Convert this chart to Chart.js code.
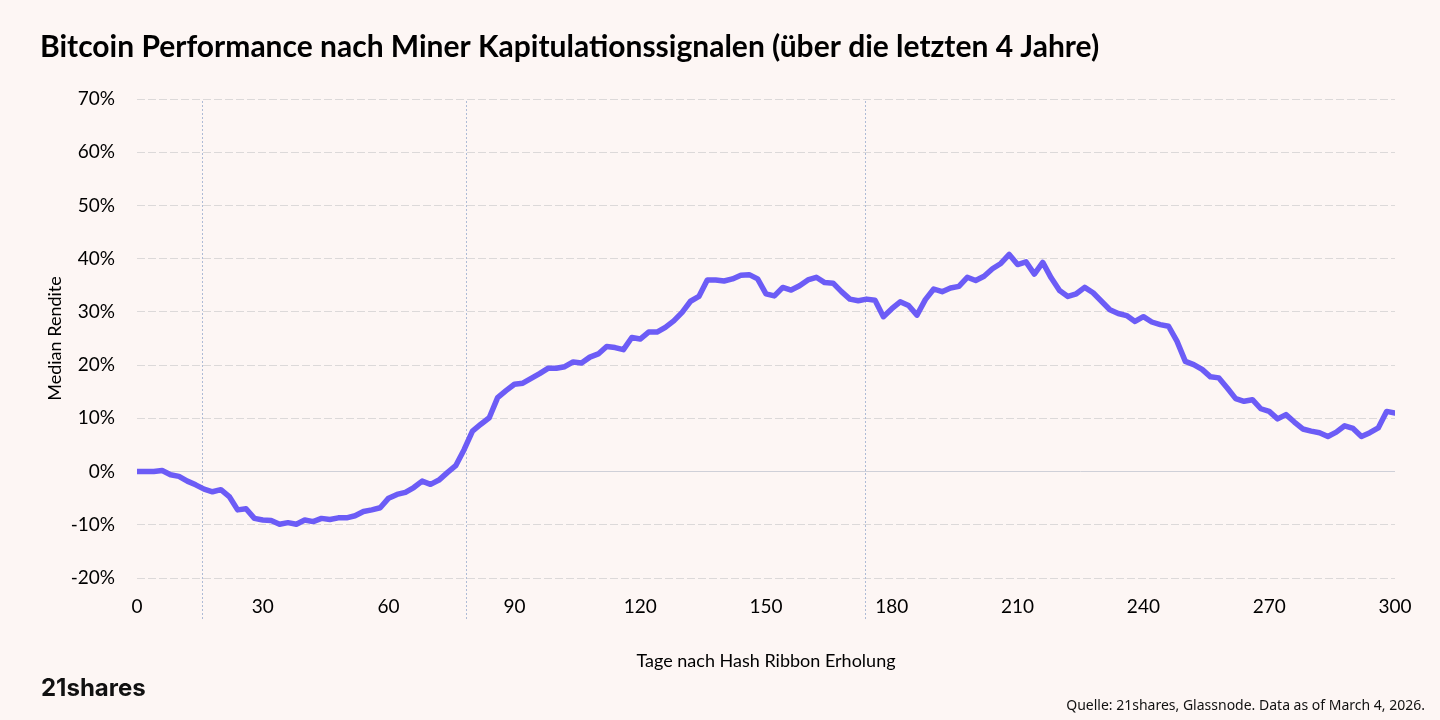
<!DOCTYPE html>
<html>
<head>
<meta charset="utf-8">
<script src="https://cdn.jsdelivr.net/npm/chart.js@4.4.1/dist/chart.umd.min.js"></script>
<style>
  html, body { margin: 0; padding: 0; background: #fdf6f4; }
  #wrap { width: 1440px; height: 720px; }
</style>
</head>
<body>
<div id="wrap"><canvas id="chart" width="1440" height="720"></canvas></div>
<script>
var days = [];
for (var d = 0; d <= 300; d += 2) days.push(d);

// Median Rendite in %
var medianReturn = [
  0, 0, 0, 0.2, -0.6, -0.9, -1.8, -2.5, -3.3, -3.8,
  -3.4, -4.7, -7.2, -7.0, -8.8, -9.1, -9.2, -9.9, -9.6, -9.9,
  -9.1, -9.4, -8.8, -9.0, -8.7, -8.7, -8.3, -7.5, -7.2, -6.8,
  -5.0, -4.3, -3.9, -3.0, -1.8, -2.4, -1.6, -0.2, 1.1, 4.1,
  7.6, 8.9, 10.1, 13.9, 15.2, 16.4, 16.6, 17.5, 18.4, 19.4,
  19.4, 19.7, 20.6, 20.4, 21.5, 22.1, 23.5, 23.3, 22.9, 25.2,
  24.9, 26.2, 26.2, 27.1, 28.3, 29.9, 32.0, 32.9, 36.0, 36.0,
  35.8, 36.2, 36.9, 37.0, 36.2, 33.4, 33.0, 34.6, 34.1, 34.9,
  36.0, 36.5, 35.5, 35.4, 33.8, 32.4, 32.1, 32.4, 32.2, 29.1,
  30.6, 31.9, 31.2, 29.4, 32.3, 34.3, 33.8, 34.5, 34.8, 36.5,
  35.9, 36.7, 38.1, 39.1, 40.8, 38.9, 39.4, 37.1, 39.3, 36.4,
  34.0, 32.9, 33.4, 34.6, 33.6, 32.0, 30.4, 29.7, 29.3, 28.2,
  29.1, 28.1, 27.6, 27.3, 24.5, 20.7, 20.1, 19.2, 17.8, 17.6,
  15.7, 13.7, 13.2, 13.5, 11.8, 11.3, 9.9, 10.7, 9.3, 8.0,
  7.6, 7.3, 6.6, 7.4, 8.6, 8.1, 6.6, 7.3, 8.2, 11.3,
  11.0
];

// gepunktete Markierungen (Tage)
var markerDays = [15.5, 78.5, 173.5];

var xTicks = [0, 30, 60, 90, 120, 150, 180, 210, 240, 270, 300];
var yMin = -20, yMax = 70;

var points = days.map(function(dd, i) { return { x: dd, y: medianReturn[i] }; });

var extras = {
  id: 'extras',
  beforeDraw: function(chart) {
    var c = chart.ctx;
    c.save();
    c.fillStyle = '#fdf6f4';
    c.fillRect(0, 0, chart.width, chart.height);
    c.restore();
  },
  beforeDatasetsDraw: function(chart) {
    var c = chart.ctx, xs = chart.scales.x;
    c.save();
    c.strokeStyle = '#aebbd6';
    c.lineWidth = 1;
    c.setLineDash([2, 2]);
    markerDays.forEach(function(md) {
      var px = Math.round(xs.getPixelForValue(md)) + 0.5;
      c.beginPath();
      c.moveTo(px, 101);
      c.lineTo(px, 621);
      c.stroke();
    });
    c.restore();
  },
  afterDraw: function(chart) {
    var c = chart.ctx;
    c.save();
    c.fillStyle = '#111';
    c.font = 'bold 24px Inter';
    c.textBaseline = 'alphabetic';
    c.textAlign = 'left';
    c.fillText('21shares', 41, 696);
    c.font = '14px "Noto Sans"';
    c.textAlign = 'right';
    c.fillText('Quelle: 21shares, Glassnode. Data as of March 4, 2026.', 1425, 710);
    c.restore();
  }
};

new Chart(document.getElementById('chart'), {
  type: 'line',
  data: {
    datasets: [{
      data: points,
      borderColor: '#6c5cf6',
      borderWidth: 5.5,
      pointRadius: 0,
      tension: 0,
      borderJoinStyle: 'round',
      borderCapStyle: 'round'
    }]
  },
  options: {
    responsive: false,
    animation: false,
    layout: { padding: { left: 40, right: 45, top: 0, bottom: 40 } },
    plugins: {
      legend: { display: false },
      tooltip: { enabled: false },
      title: {
        display: true,
        text: 'Bitcoin Performance nach Miner Kapitulationssignalen (über die letzten 4 Jahre)',
        align: 'start',
        color: '#000',
        font: { family: 'Lato', weight: 'bold', size: 30 },
        padding: { top: 29, bottom: 34 }
      }
    },
    scales: {
      x: {
        type: 'linear',
        min: 0,
        max: 300,
        afterBuildTicks: function(scale) {
          scale.ticks = xTicks.map(function(v) { return { value: v }; });
        },
        afterFit: function(scale) { scale.height = 102; },
        grid: { display: false, drawTicks: false },
        border: { display: false },
        ticks: {
          color: '#000',
          padding: 17,
          maxRotation: 0,
          font: { family: 'Lato', size: 19 }
        },
        title: {
          display: true,
          text: 'Tage nach Hash Ribbon Erholung',
          color: '#000',
          font: { family: 'Lato', size: 18 },
          padding: { top: 0, bottom: 8 }
        }
      },
      y: {
        min: yMin,
        max: yMax,
        afterFit: function(scale) { scale.width = 97; },
        grid: {
          drawTicks: false,
          lineWidth: 1,
          color: function(ctx) { return ctx.tick && ctx.tick.value === 0 ? '#cfd0d8' : '#dcd9d9'; }
        },
        border: {
          display: false,
          dash: function(ctx) { return ctx.tick && ctx.tick.value === 0 ? [] : [8, 3]; }
        },
        ticks: {
          stepSize: 10,
          color: '#000',
          padding: 22,
          font: { family: 'Lato', size: 19 },
          callback: function(v) { return v + '%'; }
        },
        title: {
          display: true,
          text: 'Median Rendite',
          color: '#000',
          font: { family: 'Lato', size: 18 },
          padding: { top: 4, bottom: 0 }
        }
      }
    }
  },
  plugins: [extras]
});
</script>
</body>
</html>
